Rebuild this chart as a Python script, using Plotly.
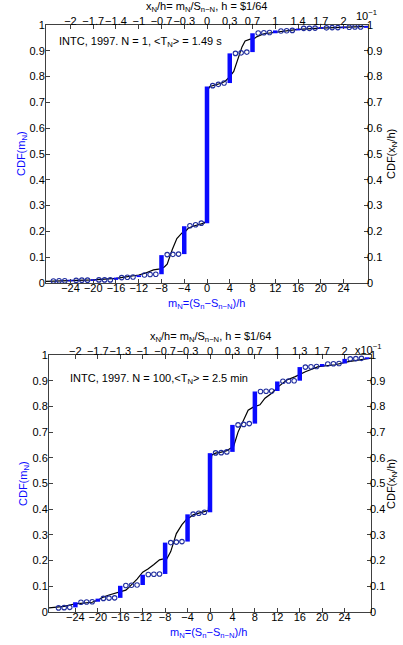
import plotly.graph_objects as go

# ---------------- data ----------------
m_vals = list(range(-28, 29))

cdf_m_n1 = [0.008, 0.008, 0.009, 0.009, 0.010, 0.010, 0.011, 0.011, 0.012, 0.012,
            0.012, 0.012, 0.021, 0.021, 0.022, 0.023, 0.030, 0.031, 0.033, 0.034,
            0.108, 0.110, 0.111, 0.112, 0.220, 0.222, 0.226, 0.232, 0.762, 0.765,
            0.770, 0.775, 0.890, 0.890, 0.892, 0.895, 0.968, 0.969, 0.970, 0.971,
            0.976, 0.977, 0.978, 0.979, 0.986, 0.987, 0.987, 0.988, 0.989, 0.989,
            0.990, 0.990, 0.991, 0.991, 0.992, 0.992, 0.993]

cdf_m_n100 = [0.015, 0.016, 0.017, 0.018, 0.038, 0.038, 0.039, 0.040, 0.052, 0.053,
              0.054, 0.055, 0.102, 0.103, 0.104, 0.105, 0.145, 0.146, 0.147, 0.148,
              0.270, 0.270, 0.272, 0.274, 0.380, 0.381, 0.384, 0.388, 0.618, 0.619,
              0.620, 0.623, 0.728, 0.728, 0.730, 0.733, 0.858, 0.858, 0.859, 0.860,
              0.897, 0.898, 0.899, 0.900, 0.953, 0.953, 0.954, 0.955, 0.965, 0.965,
              0.966, 0.967, 0.985, 0.985, 0.986, 0.987, 0.988]

line_x_n1 = [-28.3, -24, -20, -16, -14, -12, -11, -10, -9.4, -8.2, -7.5, -7, -6.5, -6.1,
             -5.3, -4.4, -3.8, -3.3, -2.5, -1.5, -0.5, -0.2, 0.2, 0.5, 1.5, 2.5, 3.2, 4,
             4.7, 5.4, 6.15, 6.7, 7.6, 8.2, 8.8, 10, 12, 14, 16, 20, 24, 28.3]
line_y_n1 = [0.006, 0.009, 0.012, 0.018, 0.024, 0.031, 0.037, 0.045, 0.051, 0.055, 0.062,
             0.073, 0.105, 0.130, 0.172, 0.194, 0.200, 0.212, 0.220, 0.226, 0.232, 0.240,
             0.750, 0.762, 0.768, 0.774, 0.782, 0.800, 0.820, 0.865, 0.915, 0.938, 0.945,
             0.946, 0.955, 0.966, 0.972, 0.978, 0.983, 0.988, 0.991, 0.995]

line_x_n100 = [-28.7, -26, -24, -22, -21, -20, -19, -18, -17, -16, -15, -14.5, -13.5, -13,
               -12, -11, -10, -9, -8.5, -7.7, -7, -6.5, -6, -5, -4.2, -3.5, -3, -2, -1,
               -0.3, 0.3, 1, 2, 3, 3.6, 4.2, 5, 6, 6.8, 7.7, 8.9, 9.8, 11, 12.2, 13.7,
               15.2, 17, 19.3, 22.3, 24.7, 28.7]
line_y_n100 = [0.016, 0.022, 0.032, 0.035, 0.038, 0.046, 0.058, 0.066, 0.072, 0.077, 0.085,
               0.095, 0.115, 0.128, 0.155, 0.168, 0.185, 0.203, 0.206, 0.207, 0.235, 0.275,
               0.305, 0.340, 0.360, 0.370, 0.378, 0.385, 0.390, 0.395, 0.610, 0.618, 0.622,
               0.628, 0.636, 0.644, 0.700, 0.750, 0.785, 0.797, 0.806, 0.832, 0.851, 0.877,
               0.903, 0.916, 0.935, 0.955, 0.962, 0.974, 0.988]

bottom_ticks = [-24, -20, -16, -12, -8, -4, 0, 4, 8, 12, 16, 20, 24]
top_labels_n1 = ["−2", "−1.7", "−1.4", "−1", "−0.7", "−0.3", "0", "0.3", "0.7", "1", "1.4", "1.7", "2"]
top_labels_n100 = ["−2", "−1.7", "−1.3", "−1", "−0.7", "−0.3", "0", "0.3", "0.7", "1", "1.3", "1.7", "2"]
y_ticks = [0, 0.1, 0.2, 0.3, 0.4, 0.5, 0.6, 0.7, 0.8, 0.9, 1]
y_labels = ["0", "0.1", "0.2", "0.3", "0.4", "0.5", "0.6", "0.7", "0.8", "0.9", "1"]

# ---------------- figure ----------------
W, H = 403, 645
FONT = "Liberation Sans, Arial, sans-serif"
BLUE = "#0a0aff"
CIRC = "#1f2d9e"
AX = "#404040"


def px(x):
    return x / W


def py(y):
    return 1 - y / H


fig = go.Figure()

panels = [
    dict(cdf=cdf_m_n1, lx=line_x_n1, ly=line_y_n1, top=top_labels_n1,
         xr=[-28.3, 28.3], xd=[46, 368], yd=[25, 283], ax=("x", "y", "x2", "y2")),
    dict(cdf=cdf_m_n100, lx=line_x_n100, ly=line_y_n100, top=top_labels_n100,
         xr=[-28.7, 28.7], xd=[49, 371], yd=[355, 612], ax=("x3", "y3", "x4", "y4")),
]

layout_axes = {}
for i, p in enumerate(panels):
    xa, ya, xa2, ya2 = p["ax"]
    cdf = p["cdf"]
    # black smooth line
    fig.add_trace(go.Scatter(x=p["lx"], y=p["ly"], mode="lines",
                             line=dict(color="black", width=1.2),
                             xaxis=xa, yaxis=ya, showlegend=False, hoverinfo="skip"))
    # open circles at non-multiples of 4
    cx = [m for m in m_vals if m % 4 != 0]
    cy = [cdf[m_vals.index(m)] for m in cx]
    fig.add_trace(go.Scatter(x=cx, y=cy, mode="markers",
                             marker=dict(symbol="circle-open", size=4.5, color=CIRC,
                                         line=dict(width=1.1, color=CIRC)),
                             xaxis=xa, yaxis=ya, showlegend=False, hoverinfo="skip"))
    # thick bars at jumps (multiples of 4)
    bx, by = [], []
    for m in m_vals:
        if m % 4 == 0 and m > m_vals[0]:
            k = m_vals.index(m)
            lo, hi = cdf[k - 1], cdf[k]
            if hi - lo < 0.006:
                lo, hi = lo - 0.003, hi + 0.003
            bx += [m, m, None]
            by += [lo, hi, None]
    fig.add_trace(go.Scatter(x=bx, y=by, mode="lines",
                             line=dict(color=BLUE, width=4.5),
                             xaxis=xa, yaxis=ya, showlegend=False, hoverinfo="skip"))
    # invisible traces for secondary axes
    fig.add_trace(go.Scatter(x=[0], y=[0], mode="markers", marker=dict(opacity=0),
                             xaxis=xa2, yaxis=ya2, showlegend=False, hoverinfo="skip"))

    xdom = [px(p["xd"][0]), px(p["xd"][1])]
    ydom = [py(p["yd"][1]), py(p["yd"][0])]
    xn = "xaxis" + xa[1:]
    yn = "yaxis" + ya[1:]
    xn2 = "xaxis" + xa2[1:]
    yn2 = "yaxis" + ya2[1:]
    layout_axes[xn] = dict(domain=xdom, range=p["xr"], anchor=ya, tickvals=bottom_ticks,
                           ticktext=[str(t).replace("-", "−") for t in bottom_ticks],
                           ticks="inside", ticklen=4, tickcolor=AX, showline=True,
                           linecolor=AX, linewidth=1, mirror="ticks", showgrid=False,
                           zeroline=False, tickangle=0, ticklabelstandoff=-5,
                           automargin=False,
                           tickfont=dict(size=11, color="black"))
    layout_axes[yn] = dict(domain=ydom, range=[0, 1], anchor=xa, tickvals=y_ticks,
                           ticktext=y_labels, ticks="inside", ticklen=4, tickcolor=AX,
                           showline=True, linecolor=AX, linewidth=1, mirror="ticks",
                           showgrid=False, zeroline=False, ticklabelstandoff=-2,
                           automargin=False,
                           tickfont=dict(size=11, color="black"))
    layout_axes[xn2] = dict(domain=xdom, range=p["xr"], anchor=ya2, overlaying=xa,
                            side="top", tickvals=bottom_ticks, ticktext=p["top"],
                            ticks="", showline=False, showgrid=False, zeroline=False,
                            tickangle=0, ticklabelstandoff=-3, automargin=False,
                            tickfont=dict(size=11, color="black"))
    layout_axes[yn2] = dict(domain=ydom, range=[0, 1], anchor=xa2, overlaying=ya,
                            side="right", tickvals=y_ticks, ticktext=y_labels,
                            ticks="", showline=False, showgrid=False, zeroline=False,
                            ticklabelstandoff=-2, automargin=False,
                            tickfont=dict(size=11, color="black"))

fig.update_layout(**layout_axes)

ann = []


def add(text, x, y, color="black", angle=0, xanchor="center", size=11):
    ann.append(dict(text=text, x=px(x), y=py(y), xref="paper", yref="paper",
                    showarrow=False, textangle=angle, xanchor=xanchor, yanchor="middle",
                    font=dict(size=size, color=color, family=FONT)))


add("INTC, 1997. N = 1, &lt;T<sub>N</sub>&gt; = 1.49 s", 57, 42, xanchor="left")
add("INTC, 1997. N = 100,&lt;T<sub>N</sub>&gt; = 2.5 min", 68, 379, xanchor="left")
add("x<sub>N</sub>/h= m<sub>N</sub>/S<sub>n−N</sub>, h = $1/64", 207, 7)
add("x<sub>N</sub>/h= m<sub>N</sub>/S<sub>n−N</sub>, h = $1/64", 210, 337)
add("10<sup>−1</sup>", 366, 15)
add("x10<sup>−1</sup>", 368, 349)
add("m<sub>N</sub>=(S<sub>n</sub>−S<sub>n−N</sub>)/h", 207, 304, color=BLUE)
add("m<sub>N</sub>=(S<sub>n</sub>−S<sub>n−N</sub>)/h", 208, 633, color=BLUE)
add("CDF(m<sub>N</sub>)", 22, 154, color=BLUE, angle=-90)
add("CDF(m<sub>N</sub>)", 24, 484, color=BLUE, angle=-90)
add("CDF(x<sub>N</sub>/h)", 392, 154, angle=-90)
add("CDF(x<sub>N</sub>/h)", 392, 484, angle=-90)

fig.update_layout(width=W, height=H,
                  margin=dict(l=0, r=0, t=0, b=0, pad=0, autoexpand=False),
                  paper_bgcolor="white", plot_bgcolor="white",
                  font=dict(family=FONT, size=11, color="black"),
                  annotations=ann, showlegend=False)

fig.write_html("out.html",
               config={"displayModeBar": False, "staticPlot": True},
               post_script="document.body.style.margin='0';document.body.style.overflow='hidden';")
